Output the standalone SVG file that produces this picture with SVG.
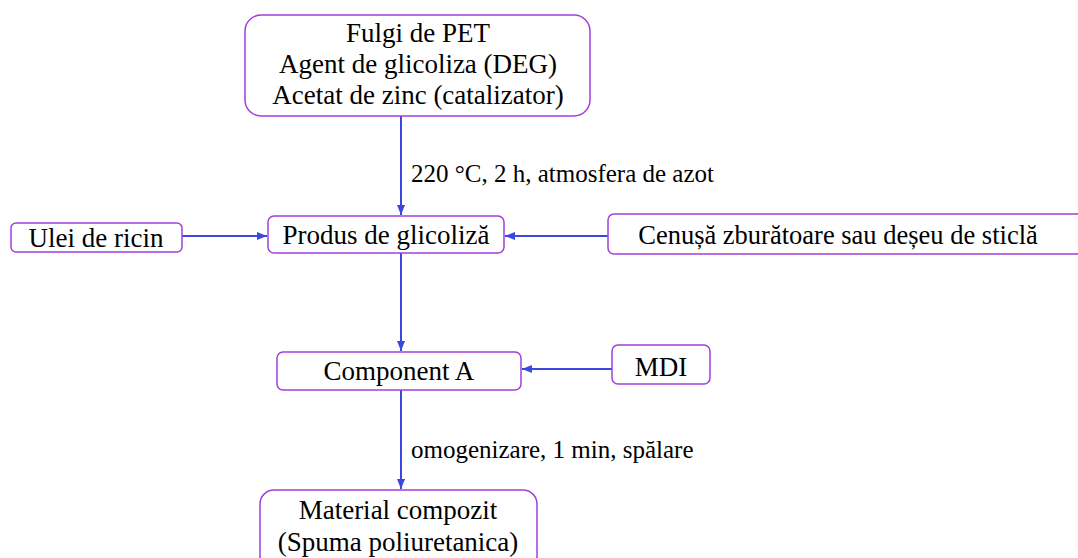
<svg xmlns="http://www.w3.org/2000/svg" width="1078" height="558" viewBox="0 0 1078 558">
<style>
.box{fill:#ffffff;stroke:#a23fdc;stroke-width:1.5}
.t{font-family:"Liberation Serif","Times New Roman",serif;font-size:27px;fill:#000000;text-anchor:middle}
.lbl{font-family:"Liberation Serif","Times New Roman",serif;font-size:25px;fill:#000000}
.c{stroke:#3a48e0;stroke-width:2;fill:none;marker-end:url(#ah)}
</style>
<defs>
<marker id="ah" viewBox="0 0 10 8" refX="10" refY="4" markerWidth="10" markerHeight="8" markerUnits="userSpaceOnUse" orient="auto">
<path d="M0,0 L10,4 L0,8 Z" fill="#3a48e0"/>
</marker>
</defs>
<rect width="1078" height="558" fill="#ffffff"/>
<g id="connectors">
<line class="c" x1="401" y1="116" x2="401" y2="215"/>
<line class="c" x1="182" y1="236" x2="267" y2="236"/>
<line class="c" x1="608" y1="236" x2="505" y2="236"/>
<line class="c" x1="401" y1="253" x2="401" y2="351"/>
<line class="c" x1="612" y1="369" x2="522" y2="369"/>
<line class="c" x1="401" y1="390" x2="401" y2="489"/>
<text class="lbl" x="411" y="182">220 °C, 2 h, atmosfera de azot</text>
<text class="lbl" x="411" y="458">omogenizare, 1 min, spălare</text>
</g>
<g id="node-pet">
<rect class="box" x="245" y="15" width="345" height="101" rx="16"/>
<text class="t" x="418" y="42">Fulgi de PET</text>
<text class="t" x="418" y="73">Agent de glicoliza (DEG)</text>
<text class="t" x="418" y="104">Acetat de zinc (catalizator)</text>
</g>
<g id="node-ulei">
<rect class="box" x="11" y="223" width="171" height="29" rx="5"/>
<text class="t" x="96" y="247">Ulei de ricin</text>
</g>
<g id="node-produs">
<rect class="box" x="268" y="216" width="236" height="37" rx="6"/>
<text class="t" x="386" y="244">Produs de glicoliză</text>
</g>
<g id="node-cenusa">
<rect class="box" x="608" y="214" width="480" height="40" rx="6"/>
<text class="t" x="838" y="244" style="font-size:26.5px">Cenușă zburătoare sau deșeu de sticlă</text>
</g>
<g id="node-component">
<rect class="box" x="277" y="352" width="244" height="38" rx="6"/>
<text class="t" x="399" y="380">Component A</text>
</g>
<g id="node-mdi">
<rect class="box" x="612" y="345" width="98" height="39" rx="6"/>
<text class="t" x="661" y="376">MDI</text>
</g>
<g id="node-material">
<rect class="box" x="260" y="490" width="277" height="80" rx="14"/>
<text class="t" x="398" y="519">Material compozit</text>
<text class="t" x="398" y="551">(Spuma poliuretanica)</text>
</g>
</svg>
